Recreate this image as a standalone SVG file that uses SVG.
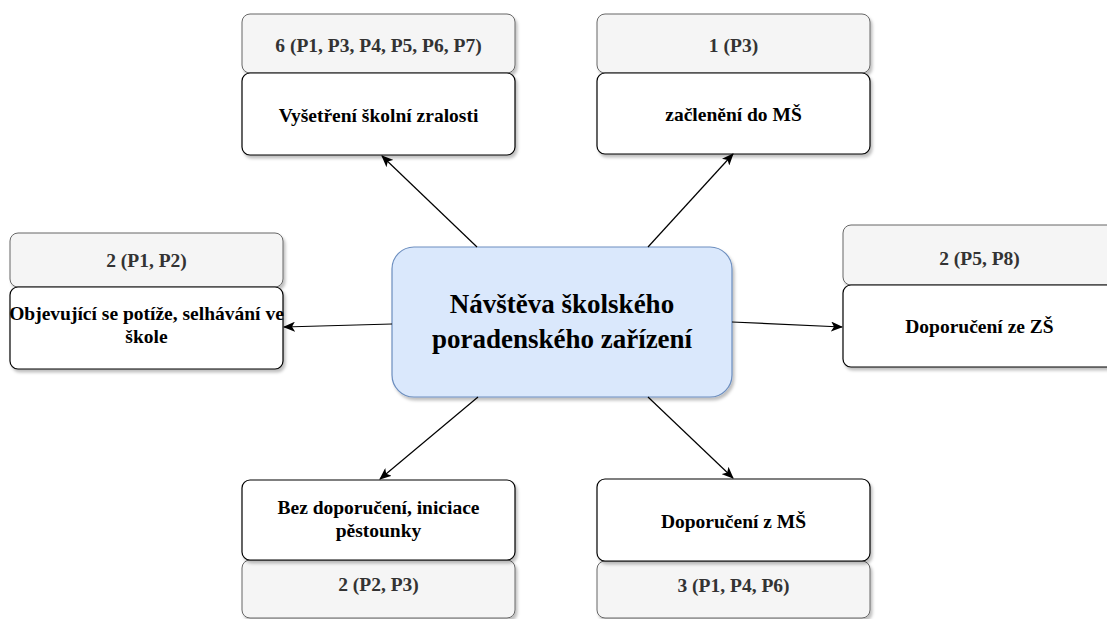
<svg xmlns="http://www.w3.org/2000/svg" width="1107" height="619" viewBox="0 0 1107 619">
<defs>
<filter id="sh" x="-10%" y="-10%" width="120%" height="130%">
<feDropShadow dx="2" dy="3" stdDeviation="1.5" flood-color="#000" flood-opacity="0.25"/>
</filter>
<marker id="arr" viewBox="0 0 12 10" refX="11" refY="5" markerWidth="12" markerHeight="10" markerUnits="userSpaceOnUse" orient="auto">
<path d="M0,0 L12,5 L0,10 L3,5 z" fill="#000"/>
</marker>
<style>
.cnt{fill:#f5f5f5;stroke:#666666;stroke-width:1}
.lbl{fill:#ffffff;stroke:#000000;stroke-width:1.2}
.ctr{fill:#dae8fc;stroke:#6c8ebf;stroke-width:1.2}
text{font-family:"Liberation Serif","Times New Roman",serif;font-weight:bold;text-anchor:middle}
.tc{font-size:19.5px;fill:#333333}
.tl{font-size:19.5px;fill:#000000}
.tm{font-size:27px;fill:#000000}
.edge{fill:none;stroke:#000;stroke-width:1.2;marker-end:url(#arr)}
</style>
</defs>
<rect width="1107" height="619" fill="#ffffff"/>

<g id="center">
<rect class="ctr" x="392" y="247" width="340" height="150" rx="22" filter="url(#sh)"/>
<text class="tm" x="562" y="313">Návštěva školského</text>
<text class="tm" x="562" y="348">poradenského zařízení</text>
</g>

<g id="node-skolni-zralost">
<rect class="cnt" x="242" y="14" width="273" height="59" rx="8" filter="url(#sh)"/>
<text class="tc" x="378.5" y="52">6 (P1, P3, P4, P5, P6, P7)</text>
<rect class="lbl" x="242" y="73" width="273" height="82" rx="8" filter="url(#sh)"/>
<text class="tl" x="378.5" y="122">Vyšetření školní zralosti</text>
</g>

<g id="node-zacleneni">
<rect class="cnt" x="597" y="14" width="273" height="59" rx="8" filter="url(#sh)"/>
<text class="tc" x="733.5" y="52">1 (P3)</text>
<rect class="lbl" x="597" y="73" width="273" height="81" rx="8" filter="url(#sh)"/>
<text class="tl" x="733.5" y="121">začlenění do MŠ</text>
</g>

<g id="node-potize">
<rect class="cnt" x="10" y="233" width="273" height="54" rx="8" filter="url(#sh)"/>
<text class="tc" x="146.5" y="267">2 (P1, P2)</text>
<rect class="lbl" x="10" y="287" width="273" height="82" rx="8" filter="url(#sh)"/>
<text class="tl" x="146.5" y="320">Objevující se potíže, selhávání ve</text>
<text class="tl" x="146.5" y="343">škole</text>
</g>

<g id="node-doporuceni-zs">
<rect class="cnt" x="843" y="225" width="273" height="60" rx="8" filter="url(#sh)"/>
<text class="tc" x="979.5" y="265">2 (P5, P8)</text>
<rect class="lbl" x="843" y="285" width="273" height="82" rx="8" filter="url(#sh)"/>
<text class="tl" x="979.5" y="333">Doporučení ze ZŠ</text>
</g>

<g id="node-bez-doporuceni">
<rect class="cnt" x="242" y="560" width="273" height="58" rx="8" filter="url(#sh)"/>
<text class="tc" x="378.5" y="591">2 (P2, P3)</text>
<rect class="lbl" x="242" y="480" width="273" height="80" rx="8" filter="url(#sh)"/>
<text class="tl" x="378.5" y="514">Bez doporučení, iniciace</text>
<text class="tl" x="378.5" y="537">pěstounky</text>
</g>

<g id="node-doporuceni-ms">
<rect class="cnt" x="597" y="561" width="273" height="57" rx="8" filter="url(#sh)"/>
<text class="tc" x="733.5" y="592">3 (P1, P4, P6)</text>
<rect class="lbl" x="597" y="479" width="273" height="82" rx="8" filter="url(#sh)"/>
<text class="tl" x="733.5" y="528">Doporučení z MŠ</text>
</g>

<g id="connectors">
<line class="edge" x1="477" y1="247" x2="382" y2="156"/>
<line class="edge" x1="648" y1="247" x2="733" y2="154"/>
<line class="edge" x1="392" y1="324" x2="284" y2="327"/>
<line class="edge" x1="732" y1="322" x2="842" y2="327"/>
<line class="edge" x1="478" y1="397" x2="380" y2="479"/>
<line class="edge" x1="648" y1="397" x2="733" y2="478"/>
</g>
</svg>
